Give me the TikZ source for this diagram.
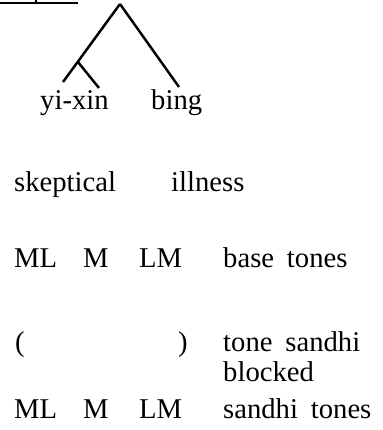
\documentclass[tikz,border=0pt]{standalone}
\usepackage{fontspec}
\setmainfont{Liberation Serif}
\newcommand{\wsp}{\hspace{.45em}}
\begin{document}
\begin{tikzpicture}[every node/.style={anchor=base west,inner sep=0pt,
                  font=\fontsize{16.3}{19}\selectfont}, line width=1.4pt]
              \useasboundingbox (0,0) rectangle (7.64,8.6);
              % stray rule at the top
              \draw[line width=1pt] (0,8.54) -- (1.56,8.54);
              \draw[line width=1pt] (0.72,8.54) -- (0.72,8.6);
              % tree
              \coordinate (top) at (2.4,8.52);
              \coordinate (mid) at (1.56,7.36);
              \coordinate (l1) at (1.26,6.96);
              \coordinate (l2) at (1.98,6.84);
              \coordinate (r) at (3.58,6.86);
              \node (yixin) at (0.78,6.4) {yi-xin};
              \node (bing) at (3.0,6.4) {bing};
              \draw (top) -- (l1);
              \draw (mid) -- (l2);
              \draw (top) -- (r);
              % glosses
              \node (skep) at (0.26,4.76) {skeptical};
              \node (ill) at (3.4,4.76) {illness};
              % base tones
              \node (ml1) at (0.26,3.24) {ML};
              \node (m1) at (1.64,3.24) {M};
              \node (lm1) at (2.76,3.24) {LM};
              \node (base) at (4.44,3.24) {base\wsp tones};
              % blocked
              \node (lpar) at (0.28,1.56) {(};
              \node (rpar) at (3.54,1.56) {)};
              \node (sandhi) at (4.44,1.56) {tone\wsp sandhi};
              \node (blocked) at (4.44,0.96) {blocked};
              % sandhi tones
              \node (ml2) at (0.26,0.24) {ML};
              \node (m2) at (1.64,0.24) {M};
              \node (lm2) at (2.76,0.24) {LM};
              \node (stones) at (4.44,0.24) {sandhi\wsp tones};
          \end{tikzpicture}
\end{document}
